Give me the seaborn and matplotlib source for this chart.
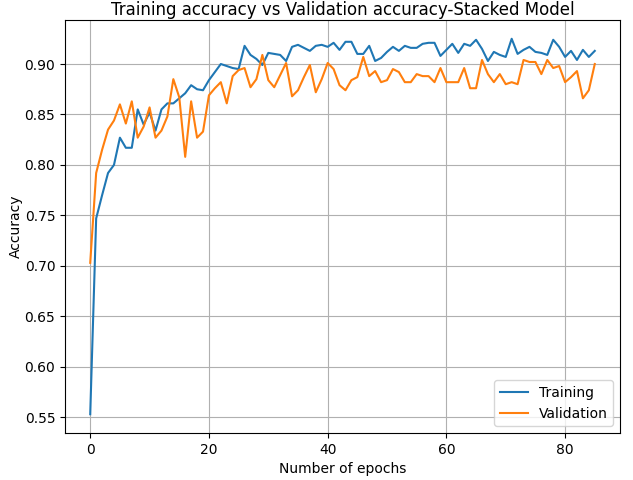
import numpy as np
import pandas as pd
import matplotlib
matplotlib.use('Agg')
import matplotlib.pyplot as plt
import seaborn as sns

train_acc = [0.553, 0.747, 0.770, 0.792, 0.800, 0.827, 0.817, 0.817, 0.855, 0.840,
             0.852, 0.834, 0.855, 0.861, 0.861, 0.866, 0.871, 0.879, 0.875, 0.874,
             0.884, 0.892, 0.900, 0.898, 0.896, 0.895, 0.918, 0.909, 0.905, 0.899,
             0.911, 0.910, 0.909, 0.903, 0.917, 0.919, 0.916, 0.913, 0.918, 0.919,
             0.917, 0.921, 0.914, 0.922, 0.922, 0.910, 0.910, 0.918, 0.903, 0.906,
             0.912, 0.917, 0.913, 0.918, 0.916, 0.916, 0.920, 0.921, 0.921, 0.908,
             0.914, 0.920, 0.911, 0.920, 0.918, 0.924, 0.915, 0.903, 0.912, 0.909,
             0.907, 0.925, 0.910, 0.914, 0.917, 0.912, 0.911, 0.909, 0.924, 0.917,
             0.907, 0.913, 0.904, 0.914, 0.907, 0.913]

val_acc = [0.703, 0.792, 0.815, 0.835, 0.844, 0.860, 0.841, 0.863, 0.827, 0.838,
           0.857, 0.827, 0.834, 0.848, 0.885, 0.867, 0.808, 0.863, 0.827, 0.833,
           0.869, 0.876, 0.882, 0.861, 0.888, 0.894, 0.896, 0.877, 0.885, 0.909,
           0.884, 0.877, 0.889, 0.901, 0.868, 0.874, 0.887, 0.899, 0.872, 0.885,
           0.901, 0.895, 0.879, 0.874, 0.884, 0.887, 0.907, 0.888, 0.893, 0.882,
           0.884, 0.895, 0.892, 0.882, 0.882, 0.890, 0.888, 0.888, 0.882, 0.896,
           0.882, 0.882, 0.882, 0.896, 0.876, 0.876, 0.904, 0.890, 0.882, 0.890,
           0.880, 0.882, 0.880, 0.904, 0.902, 0.902, 0.890, 0.904, 0.896, 0.898,
           0.882, 0.887, 0.893, 0.866, 0.874, 0.900]

epochs = np.arange(len(train_acc))

df = pd.DataFrame({'epoch': np.concatenate([epochs, epochs]),
                   'accuracy': train_acc + val_acc,
                   'kind': ['Training'] * len(epochs) + ['Validation'] * len(epochs)})

fig, ax = plt.subplots(figsize = (6.33, 4.8), dpi = 100)
sns.lineplot(data = df, x = 'epoch', y = 'accuracy', hue = 'kind',
             palette = ['#1f77b4', '#ff7f0e'], ax = ax)
ax.set_title('Training accuracy vs Validation accuracy-Stacked Model', pad = 3.5)
ax.set_xlabel('Number of epochs')
ax.set_ylabel('Accuracy', labelpad = 1)
ax.grid(True)
ax.legend(loc = 'lower right')
# axes box placed like the reference (title sits right against the top edge)
fig.subplots_adjust(left = 65 / 633, right = 620 / 633, top = 1 - 20 / 480, bottom = 1 - 433 / 480)
plt.savefig('out.png')
